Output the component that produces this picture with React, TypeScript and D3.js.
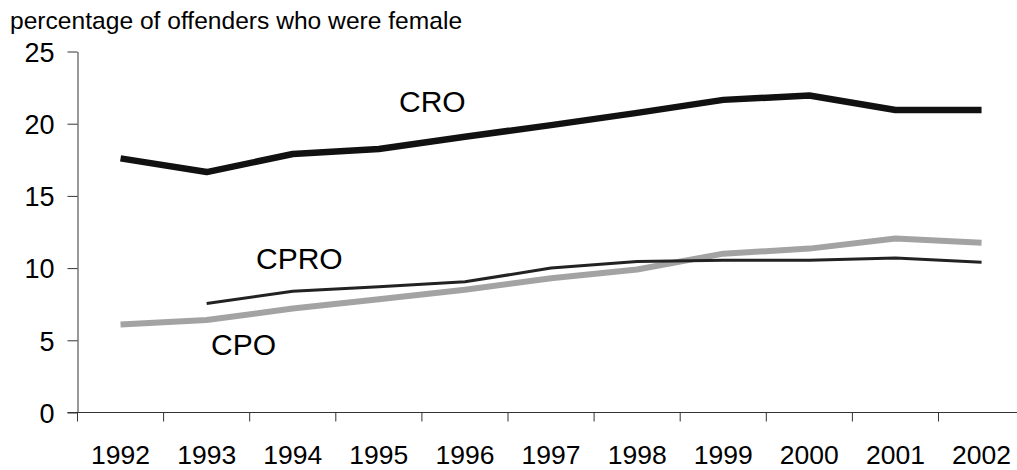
import { useEffect, useRef } from 'react';
import * as d3 from 'd3';

const years = ['1992', '1993', '1994', '1995', '1996', '1997', '1998', '1999', '2000', '2001', '2002'];
const croValues = [17.6, 16.65, 17.9, 18.25, 19.1, 19.9, 20.75, 21.65, 21.95, 20.95, 20.95];
const cproValues: (number | null)[] = [null, 7.55, 8.4, 8.7, 9.05, 10.0, 10.45, 10.55, 10.55, 10.7, 10.4];
const cpoValues = [6.1, 6.4, 7.2, 7.85, 8.5, 9.3, 9.9, 11.0, 11.35, 12.05, 11.75];
const yTicks = [0, 5, 10, 15, 20, 25];

const FONT = '"Liberation Sans", Arial, sans-serif';

const LineChart = ({ width = 1017, height = 470 }) => {
  const svgRef = useRef<SVGSVGElement>(null);

  useEffect(() => {
    d3.select(svgRef.current).selectAll('*').remove();

    const svg = d3.select(svgRef.current)
      .attr('width', width)
      .attr('height', height);

    const left = 77.5;
    const step = 86.1;
    const x = d3.scaleBand<string>()
      .domain(years)
      .range([left, left + step * years.length])
      .padding(0);
    const y = d3.scaleLinear().domain([0, 25]).range([412.5, 51.5]);
    const cx = (d: string) => (x(d) as number) + x.bandwidth() / 2;

    // title
    svg.append('text')
      .attr('x', 10)
      .attr('y', 29)
      .attr('font-family', FONT)
      .attr('font-size', 24.6)
      .attr('fill', '#000')
      .text('percentage of offenders who were female');

    // y axis
    const yAxis = svg.append('g')
      .attr('transform', `translate(${left},0)`)
      .call(d3.axisLeft(y).tickValues(yTicks).tickSize(10).tickPadding(13).tickSizeOuter(0));
    yAxis.select('.domain').attr('stroke', '#333');
    yAxis.selectAll('.tick line').attr('stroke', '#333');
    yAxis.selectAll('.tick text')
      .attr('font-family', FONT)
      .attr('font-size', 27)
      .attr('fill', '#000')
      .attr('dy', '0.36em');

    // x axis (ticks between categories)
    const xAxis = svg.append('g');
    xAxis.append('line')
      .attr('x1', left - 10)
      .attr('x2', width)
      .attr('y1', y(0))
      .attr('y2', y(0))
      .attr('stroke', '#333');
    const bounds = years.map(d => x(d) as number);
    xAxis.selectAll('.xtick')
      .data(bounds)
      .enter().append('line')
      .attr('class', 'xtick')
      .attr('x1', d => d)
      .attr('x2', d => d)
      .attr('y1', y(0))
      .attr('y2', y(0) + 9)
      .attr('stroke', '#333');
    xAxis.selectAll('.xlabel')
      .data(years)
      .enter().append('text')
      .attr('class', 'xlabel')
      .attr('x', d => cx(d))
      .attr('y', 464)
      .attr('text-anchor', 'middle')
      .attr('font-family', FONT)
      .attr('font-size', 26.5)
      .attr('fill', '#000')
      .text(d => d);

    const line = d3.line<number | null>()
      .defined(d => d != null)
      .x((d, i) => cx(years[i]))
      .y(d => y(d as number));

    const series = [
      { name: 'CPO', values: cpoValues, color: '#a3a3a3', w: 6 },
      { name: 'CPRO', values: cproValues, color: '#222', w: 3 },
      { name: 'CRO', values: croValues, color: '#111', w: 6.5 },
    ];

    svg.selectAll('.series')
      .data(series)
      .enter().append('path')
      .attr('class', 'series')
      .attr('d', d => line(d.values as (number | null)[]))
      .attr('fill', 'none')
      .attr('stroke', d => d.color)
      .attr('stroke-width', d => d.w)
      .attr('stroke-linejoin', 'round');

    const labels = [
      { text: 'CRO', x: 399, y: 112 },
      { text: 'CPRO', x: 256, y: 269 },
      { text: 'CPO', x: 211, y: 355 },
    ];
    svg.selectAll('.label')
      .data(labels)
      .enter().append('text')
      .attr('class', 'label')
      .attr('x', d => d.x)
      .attr('y', d => d.y)
      .attr('font-family', FONT)
      .attr('font-size', 30)
      .attr('fill', '#000')
      .text(d => d.text);
  }, [width, height]);

  return (
    <div style={{ position: 'absolute', left: 0, top: 0 }}>
      <svg ref={svgRef}></svg>
    </div>
  );
};

export default function App() {
  return <LineChart />;
}
